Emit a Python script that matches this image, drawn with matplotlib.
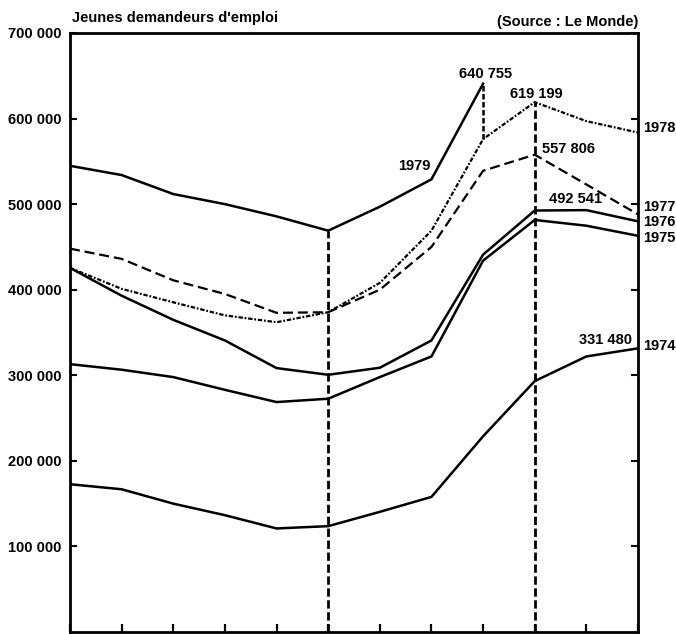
import matplotlib
matplotlib.use("Agg")
import matplotlib.pyplot as plt

plt.rcParams['font.family'] = ['Liberation Sans', 'DejaVu Sans']

months = list(range(12))
y1974 = [172700, 166800, 150000, 136500, 121000, 123700, 140400, 157900, 228700, 293200, 322000, 331480]
y1975 = [313000, 306500, 297900, 283000, 268700, 272600, 297900, 322000, 434000, 481500, 474800, 463000]
y1976 = [425500, 393000, 364800, 340700, 308400, 300600, 308800, 340700, 441000, 492541, 493000, 479900]
y1977 = [448000, 436000, 411000, 395000, 373000, 373700, 400000, 450000, 539000, 557806, 523000, 488000]
y1978 = [425500, 401000, 385300, 370000, 362000, 373700, 408000, 469000, 576000, 619199, 597000, 583700]
y1979 = [544800, 534000, 511800, 500000, 485700, 469000, 497000, 529000, 640755]

yticks = [100000, 200000, 300000, 400000, 500000, 600000, 700000]
ytick_labels = ["100 000", "200 000", "300 000", "400 000", "500 000", "600 000", "700 000"]

title_left = "Jeunes demandeurs d'emploi"
title_right = "(Source : Le Monde)"

fig = plt.figure(figsize=(6.76, 6.34), dpi=100)
ax = fig.add_axes([70/676, 2/634, 568/676, 599/634])
ax.set_xlim(0, 11)
ax.set_ylim(0, 700000)

lw = 1.8
ax.plot(months, y1974, color='black', lw=lw)
ax.plot(months, y1975, color='black', lw=lw)
ax.plot(months, y1976, color='black', lw=lw)
ax.plot(months, y1977, color='black', lw=1.6, linestyle=(0, (4.5, 2.2)))
ax.plot(months, y1978, color='black', lw=1.6, linestyle=(0, (2.0, 0.8, 0.8, 0.8)))
ax.plot(months[:len(y1979)], y1979, color='black', lw=lw)

# vertical reference lines
ax.plot([5, 5], [0, y1979[5]], color='black', lw=2.0, linestyle=(0, (3.0, 1.3)))
ax.plot([9, 9], [0, y1978[9]], color='black', lw=2.0, linestyle=(0, (3.0, 1.3)))
ax.plot([8, 8], [y1978[8], y1979[8]], color='black', lw=1.8, linestyle=(0, (2.2, 1.0)))

fs = 10.5
ax.set_yticks(yticks)
ax.set_yticklabels(ytick_labels, fontweight='bold', fontsize=fs)
ax.set_xticks(months)
ax.set_xticklabels([])
ax.tick_params(axis='y', direction='in', length=5, width=1.5, pad=6, right=True, left=True)
ax.tick_params(axis='x', direction='in', length=6, width=1.6, bottom=True, top=False)
for s in ax.spines.values():
    s.set_linewidth(2.0)

# annotations
tk = dict(fontweight='bold', fontsize=fs, color='black')
ax.text(8.05, 652000, "640 755", ha='center', va='center', **tk)
ax.text(9.03, 629000, "619 199", ha='center', va='center', **tk)
ax.text(9.15, 564700, "557 806", ha='left', va='center', **tk)
ax.text(9.27, 506300, "492 541", ha='left', va='center', **tk)
ax.text(10.88, 340700, "331 480", ha='right', va='center', **tk)
ax.text(6.98, 545000, "1979", ha='right', va='center', **tk)

lx = 11.1
ax.text(lx, y1978[-1] + 5000, "1978", ha='left', va='center', clip_on=False, **tk)
ax.text(lx, 497000, "1977", ha='left', va='center', clip_on=False, **tk)
ax.text(lx, 479000, "1976", ha='left', va='center', clip_on=False, **tk)
ax.text(lx, 460000, "1975", ha='left', va='center', clip_on=False, **tk)
ax.text(lx, 334000, "1974", ha='left', va='center', clip_on=False, **tk)

fig.text(72/676, 1 - 18/634, title_left, ha='left', va='center', fontweight='bold', fontsize=fs)
fig.text(638/676, 1 - 22/634, title_right, ha='right', va='center', fontweight='bold', fontsize=fs)

fig.savefig("out.png", dpi=100)
